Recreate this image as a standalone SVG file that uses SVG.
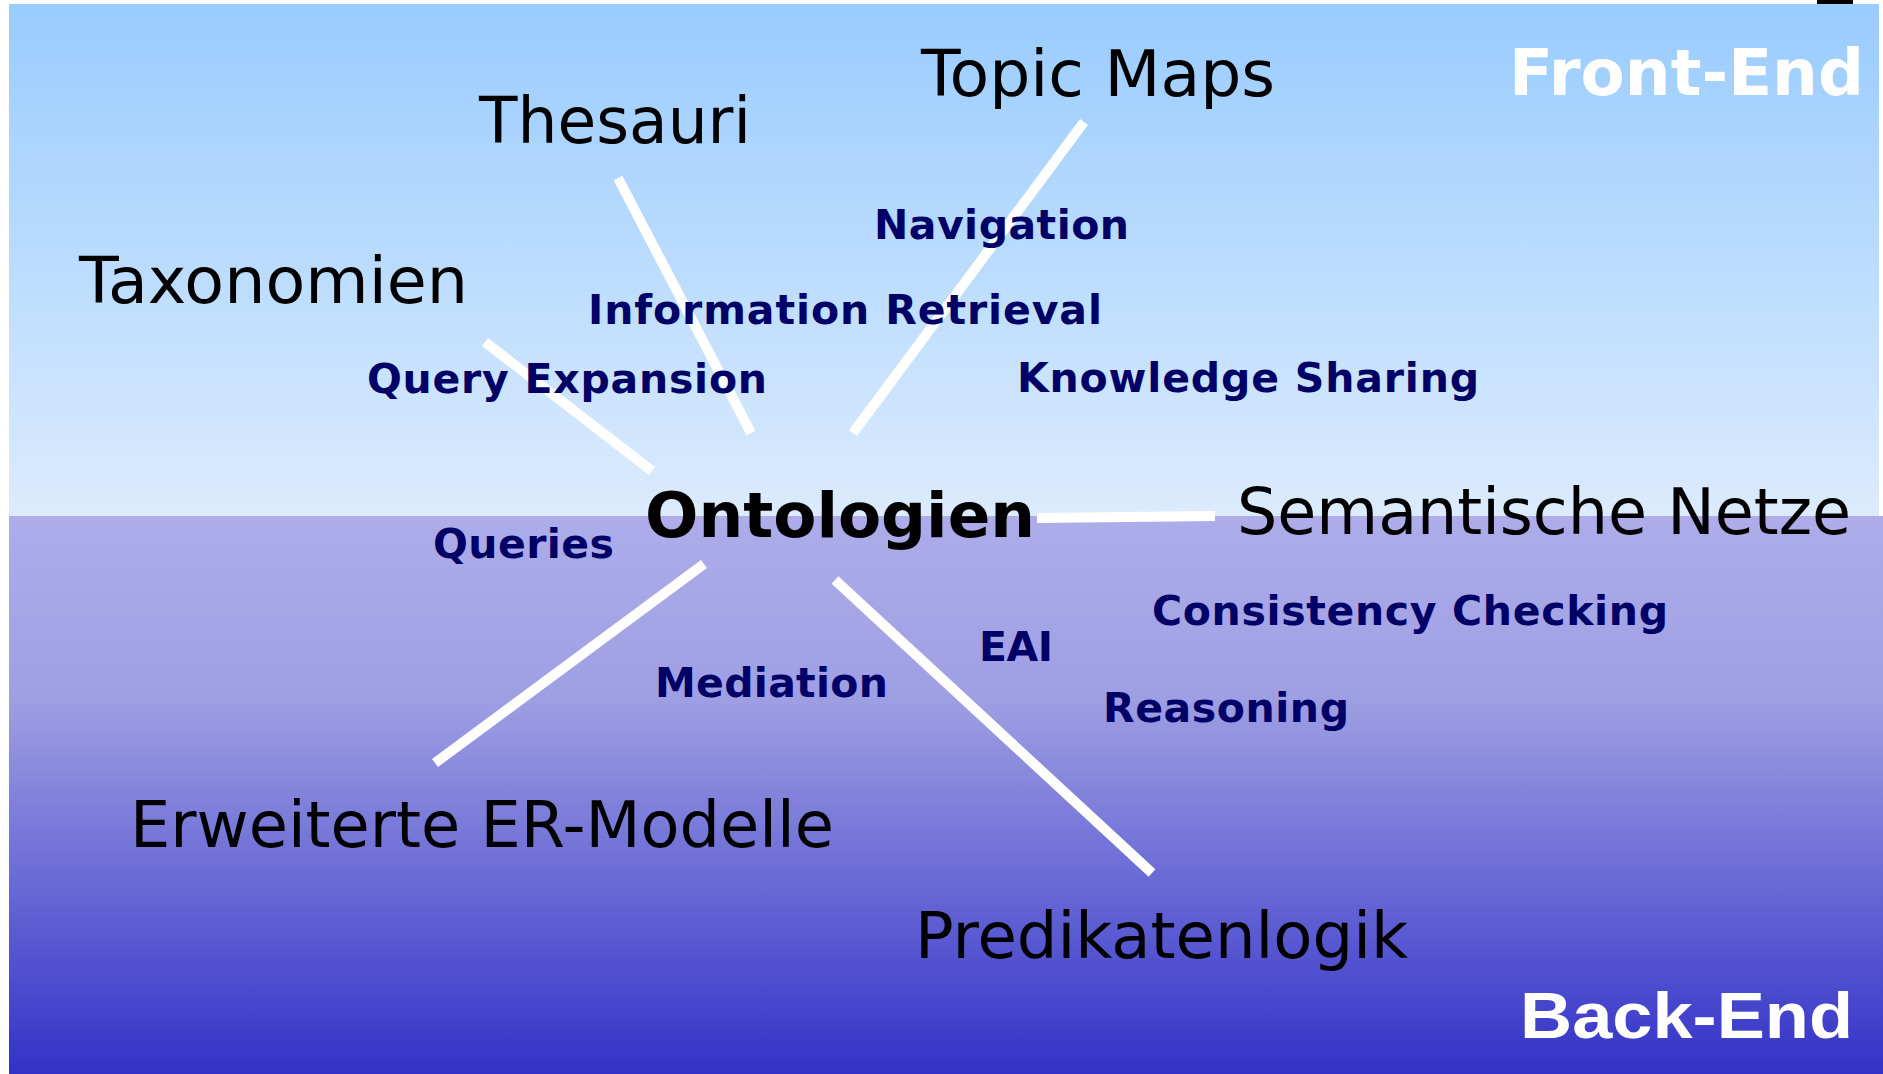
<svg xmlns="http://www.w3.org/2000/svg" width="1883" height="1074" viewBox="0 0 1883 1074">
  <defs>
    <linearGradient id="gTop" x1="0" y1="0" x2="0" y2="1">
      <stop offset="0" stop-color="#99CCFF"/>
      <stop offset="1" stop-color="#DCEBFD"/>
    </linearGradient>
    <linearGradient id="gBot" x1="0" y1="0" x2="0" y2="1">
      <stop offset="0" stop-color="#AEADEA"/>
      <stop offset="0.33" stop-color="#9E9EE3"/>
      <stop offset="1" stop-color="#3232C8"/>
    </linearGradient>
  </defs>
  <style>
    .big { font-family: "DejaVu Sans", Verdana, sans-serif; font-size: 64px; fill: #000000; }
    .core { font-family: "DejaVu Sans", Verdana, sans-serif; font-weight: bold; font-size: 63px; fill: #000000; }
    .lbl { font-family: "DejaVu Sans", Verdana, sans-serif; font-weight: bold; font-size: 41px; fill: #000066; }
    .zone { font-weight: bold; font-size: 64px; fill: #FFFFFF; }
    .edge { stroke: #FFFFFF; stroke-width: 10; stroke-linecap: butt; fill: none; }
  </style>
  <rect x="0" y="0" width="1883" height="1074" fill="#FFFFFF"/>
  <g id="background">
    <rect x="9" y="4" width="1870" height="512" fill="url(#gTop)"/>
    <rect x="9" y="516" width="1874" height="558" fill="url(#gBot)"/>
    <rect x="1817" y="0" width="36" height="4" fill="#000000"/>
  </g>
  <g id="zones">
    <text class="zone" x="1509" y="95" textLength="355" lengthAdjust="spacingAndGlyphs" style="font-family: 'DejaVu Sans', Verdana, sans-serif;">Front-End</text>
    <text class="zone" x="1520" y="1038" textLength="333" lengthAdjust="spacingAndGlyphs" style="font-family: 'Liberation Sans', Arial, sans-serif;">Back-End</text>
  </g>
  <g id="connectors">
    <line class="edge" x1="618" y1="178" x2="751" y2="433"/>
    <line class="edge" x1="485" y1="342" x2="652" y2="471"/>
    <line class="edge" x1="1084" y1="122" x2="853" y2="433"/>
    <line class="edge" x1="1037" y1="518" x2="1215" y2="516"/>
    <line class="edge" x1="704" y1="564" x2="435" y2="763"/>
    <line class="edge" x1="835" y1="580" x2="1152" y2="873"/>
  </g>
  <g id="node-ontologien"><text class="core" x="645" y="537" textLength="390" lengthAdjust="spacingAndGlyphs">Ontologien</text></g>
  <g id="node-topic-maps"><text class="big" x="921" y="96" textLength="354" lengthAdjust="spacingAndGlyphs">Topic Maps</text></g>
  <g id="node-thesauri"><text class="big" x="479" y="143" textLength="272" lengthAdjust="spacingAndGlyphs">Thesauri</text></g>
  <g id="node-taxonomien"><text class="big" x="79" y="303" textLength="389" lengthAdjust="spacingAndGlyphs">Taxonomien</text></g>
  <g id="node-semantische-netze"><text class="big" x="1237" y="534" textLength="614" lengthAdjust="spacingAndGlyphs">Semantische Netze</text></g>
  <g id="node-er-modelle"><text class="big" x="130" y="847" textLength="704" lengthAdjust="spacingAndGlyphs">Erweiterte ER-Modelle</text></g>
  <g id="node-predikatenlogik"><text class="big" x="915" y="958" textLength="493" lengthAdjust="spacingAndGlyphs">Predikatenlogik</text></g>
  <g id="labels">
    <text class="lbl" x="874" y="239" textLength="255">Navigation</text>
    <text class="lbl" x="588" y="324" textLength="514">Information Retrieval</text>
    <text class="lbl" x="367" y="393" textLength="400">Query Expansion</text>
    <text class="lbl" x="1017" y="392" textLength="462">Knowledge Sharing</text>
    <text class="lbl" x="433" y="558" textLength="181">Queries</text>
    <text class="lbl" x="655" y="697" textLength="233">Mediation</text>
    <text class="lbl" x="979" y="661" textLength="74">EAI</text>
    <text class="lbl" x="1152" y="625" textLength="516">Consistency Checking</text>
    <text class="lbl" x="1103" y="722" textLength="246">Reasoning</text>
  </g>
</svg>
